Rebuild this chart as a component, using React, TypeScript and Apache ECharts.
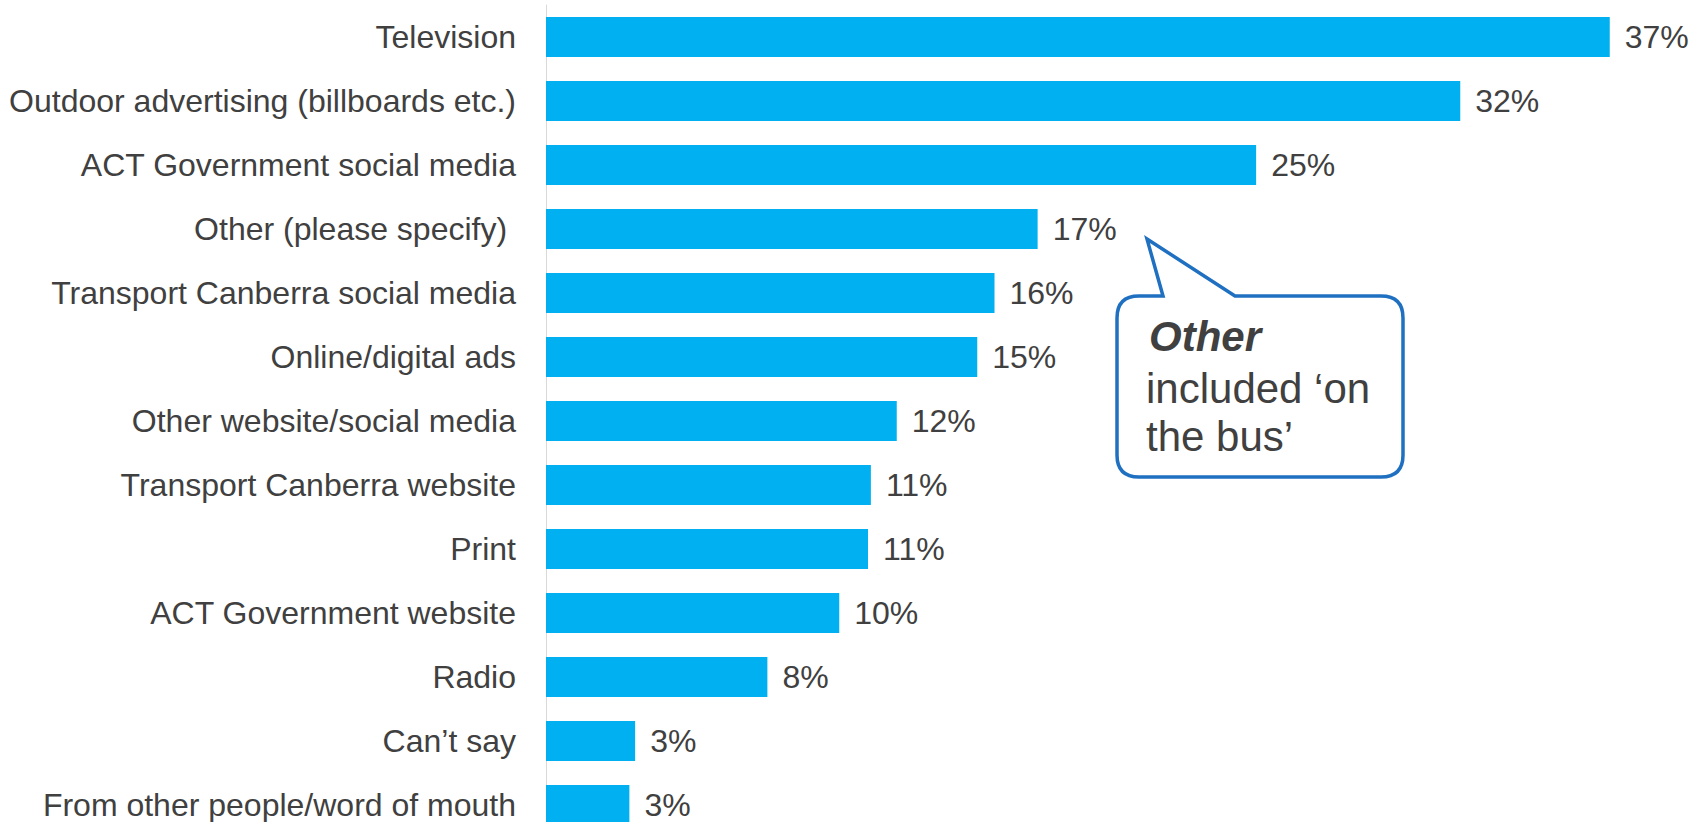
import React, { useEffect, useRef } from "react";
import * as echarts from "echarts";

const categories = [
  "Television",
  "Outdoor advertising (billboards etc.)",
  "ACT Government social media",
  "Other (please specify) ",
  "Transport Canberra social media",
  "Online/digital ads",
  "Other website/social media",
  "Transport Canberra website",
  "Print",
  "ACT Government website",
  "Radio",
  "Can’t say",
  "From other people/word of mouth",
];

const values = [37.0, 31.8, 24.7, 17.1, 15.6, 15.0, 12.2, 11.3, 11.2, 10.2, 7.7, 3.1, 2.9];

const calloutTitle = "Other";
const calloutLines = ["included ‘on", "the bus’"];

const CALLOUT_D =
  "M 1139 296 L 1163 296 L 1147 239 L 1235 296 L 1381 296 Q 1403 296 1403 318 L 1403 455 Q 1403 477 1381 477 L 1139 477 Q 1117 477 1117 455 L 1117 318 Q 1117 296 1139 296 Z";

let registered = false;

export default function App() {
  const ref = useRef<HTMLDivElement>(null);

  useEffect(() => {
    if (!ref.current) return;
    if (!registered) {
      echarts.graphic.registerShape("callout", echarts.graphic.extendPath(CALLOUT_D, {}));
      registered = true;
    }
    const chart = echarts.init(ref.current, null, { renderer: "svg" });
    const textColor = "#404040";
    const font = "'Liberation Sans', Arial, sans-serif";
    chart.setOption({
      animation: false,
      backgroundColor: "#ffffff",
      grid: { left: 546, top: 5, width: 1150, height: 832, containLabel: false },
      xAxis: {
        type: "value",
        min: 0,
        max: 40,
        show: false,
        splitLine: { show: false },
      },
      yAxis: {
        type: "category",
        data: categories,
        inverse: true,
        axisLine: { show: true, lineStyle: { color: "#d9d9d9", width: 1 } },
        axisTick: { show: false },
        axisLabel: {
          color: textColor,
          fontSize: 32,
          fontFamily: font,
          margin: 30,
        },
      },
      series: [
        {
          type: "bar",
          data: values,
          barWidth: 40,
          itemStyle: { color: "#00b0f0" },
          label: {
            show: true,
            position: "right",
            distance: 15,
            color: textColor,
            fontSize: 32,
            fontFamily: font,
            formatter: (p: any) => Math.round(p.value) + "%",
          },
        },
      ],
      graphic: [
        {
          type: "callout",
          x: 0,
          y: 0,
          z: 10,
          style: { fill: "#ffffff", stroke: "#1f70c1", lineWidth: 3.5 },
        },
        {
          type: "text",
          x: 1149,
          y: 336,
          z: 11,
          style: {
            text: calloutTitle,
            fill: textColor,
            font: `italic bold 42px ${font}`,
            verticalAlign: "middle",
          },
        },
        {
          type: "text",
          x: 1146,
          y: 388,
          z: 11,
          style: {
            text: calloutLines[0],
            fill: textColor,
            font: `42px ${font}`,
            verticalAlign: "middle",
          },
        },
        {
          type: "text",
          x: 1146,
          y: 436,
          z: 11,
          style: {
            text: calloutLines[1],
            fill: textColor,
            font: `42px ${font}`,
            verticalAlign: "middle",
          },
        },
      ],
    });
    return () => chart.dispose();
  }, []);

  return (
    <div
      style={{
        position: "fixed",
        left: 0,
        top: 0,
        width: 1701,
        height: 822,
        overflow: "hidden",
        background: "#ffffff",
      }}
    >
      <div ref={ref} style={{ width: 1701, height: 840 }} />
    </div>
  );
}
